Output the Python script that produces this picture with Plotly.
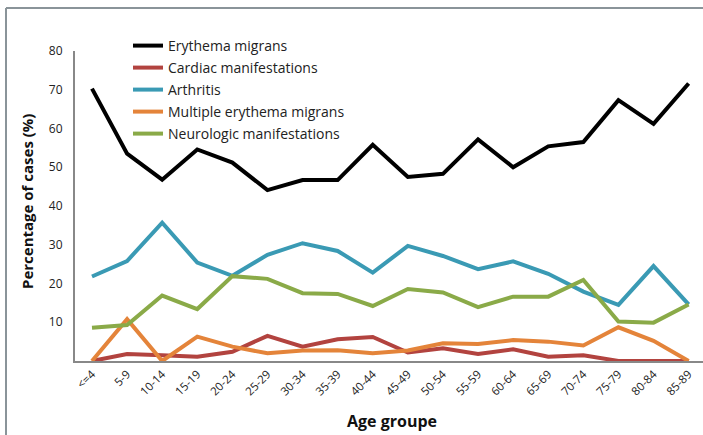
import plotly.graph_objects as go

categories = ["<=4", "5-9", "10-14", "15-19", "20-24", "25-29", "30-34", "35-39", "40-44",
              "45-49", "50-54", "55-59", "60-64", "65-69", "70-74", "75-79", "80-84", "85-89"]

erythema_migrans = [70.3, 53.5, 46.8, 54.6, 51.2, 44.1, 46.7, 46.7, 55.8,
                    47.5, 48.3, 57.2, 50.0, 55.4, 56.5, 67.3, 61.2, 71.6]
cardiac = [0.0, 1.8, 1.5, 1.1, 2.4, 6.5, 3.7, 5.6, 6.2,
           2.2, 3.3, 1.8, 3.0, 1.1, 1.5, 0.0, 0.0, 0.0]
arthritis = [21.8, 25.8, 35.7, 25.4, 22.0, 27.4, 30.4, 28.4, 22.8,
             29.7, 27.1, 23.7, 25.7, 22.5, 17.9, 14.5, 24.5, 14.6]
multiple_em = [0.0, 10.8, 0.0, 6.3, 3.7, 2.0, 2.7, 2.8, 2.0,
               2.7, 4.6, 4.4, 5.4, 5.0, 4.0, 8.7, 5.2, 0.0]
neurologic = [8.6, 9.3, 16.9, 13.4, 21.9, 21.2, 17.5, 17.3, 14.2,
              18.6, 17.7, 13.9, 16.6, 16.6, 20.9, 10.2, 9.9, 14.6]

y_ticks = [10, 20, 30, 40, 50, 60, 70, 80]

series = [
    ("Erythema migrans", erythema_migrans, "#000000"),
    ("Cardiac manifestations", cardiac, "#B2433F"),
    ("Arthritis", arthritis, "#3A9AB4"),
    ("Multiple erythema migrans", multiple_em, "#E4843A"),
    ("Neurologic manifestations", neurologic, "#8AAA48"),
]

FONT = "Open Sans"

fig = go.Figure()
for i, (name, vals, color) in enumerate(series):
    fig.add_trace(go.Scatter(
        x=list(range(len(categories))), y=vals, name=name, mode="lines",
        legendgroup=f"g{i}",
        line=dict(color=color, width=4), cliponaxis=False,
    ))

W, H = 703, 435
ml, mr, mt, mb = 75, 0, 51, 74
pw = W - ml - mr
ph = H - mt - mb

def px_x(p):
    return (p - ml) / pw

def px_y(p):
    return (H - mb - p) / ph

fig.update_layout(
    width=W, height=H,
    margin=dict(l=ml, r=mr, t=mt, b=mb, pad=0, autoexpand=False),
    paper_bgcolor="white", plot_bgcolor="white",
    font=dict(family=FONT, size=12, color="#333333"),
    showlegend=True,
    legend=dict(
        x=px_x(128), y=px_y(30), xanchor="left", yanchor="top",
        bgcolor="rgba(0,0,0,0)", itemwidth=30,
        font=dict(family=FONT, size=14, color="#222222"),
        tracegroupgap=0.8, traceorder="grouped",
    ),
    xaxis=dict(
        tickmode="array", tickvals=list(range(len(categories))), ticktext=categories,
        range=[-0.484, 17.41], tickangle=-45, showgrid=False, zeroline=False,
        showline=True, linecolor="#888888", linewidth=2, ticks="",
        tickfont=dict(family=FONT, size=11.5, color="#222222"),
    ),
    yaxis=dict(
        range=[0, 80], tickmode="array", tickvals=y_ticks,
        showgrid=False, zeroline=False, showline=True, linecolor="#888888", linewidth=2,
        ticks="", ticklabelstandoff=8,
        tickfont=dict(family=FONT, size=12, color="#222222"),
    ),
    annotations=[
        dict(text="<b>Percentage of cases (%)</b>", xref="paper", yref="paper",
             x=px_x(27), y=px_y(202), textangle=-90, showarrow=False,
             xanchor="center", yanchor="middle",
             font=dict(family=FONT, size=15, color="#111111")),
        dict(text="<b>Age groupe</b>", xref="paper", yref="paper",
             x=px_x(392), y=px_y(421), showarrow=False,
             xanchor="center", yanchor="middle",
             font=dict(family=FONT, size=16, color="#111111")),
    ],
    shapes=[
        dict(type="line", xref="paper", yref="paper",
             x0=px_x(6), x1=px_x(6), y0=px_y(435), y1=px_y(8),
             line=dict(color="#8A9499", width=2)),
        dict(type="line", xref="paper", yref="paper",
             x0=px_x(6), x1=px_x(703), y0=px_y(8), y1=px_y(8),
             line=dict(color="#8A9499", width=2)),
    ],
)

fig.write_html("out.html", config={"displayModeBar": False},
               post_script="document.body.style.margin='0';document.body.style.overflow='hidden';")
